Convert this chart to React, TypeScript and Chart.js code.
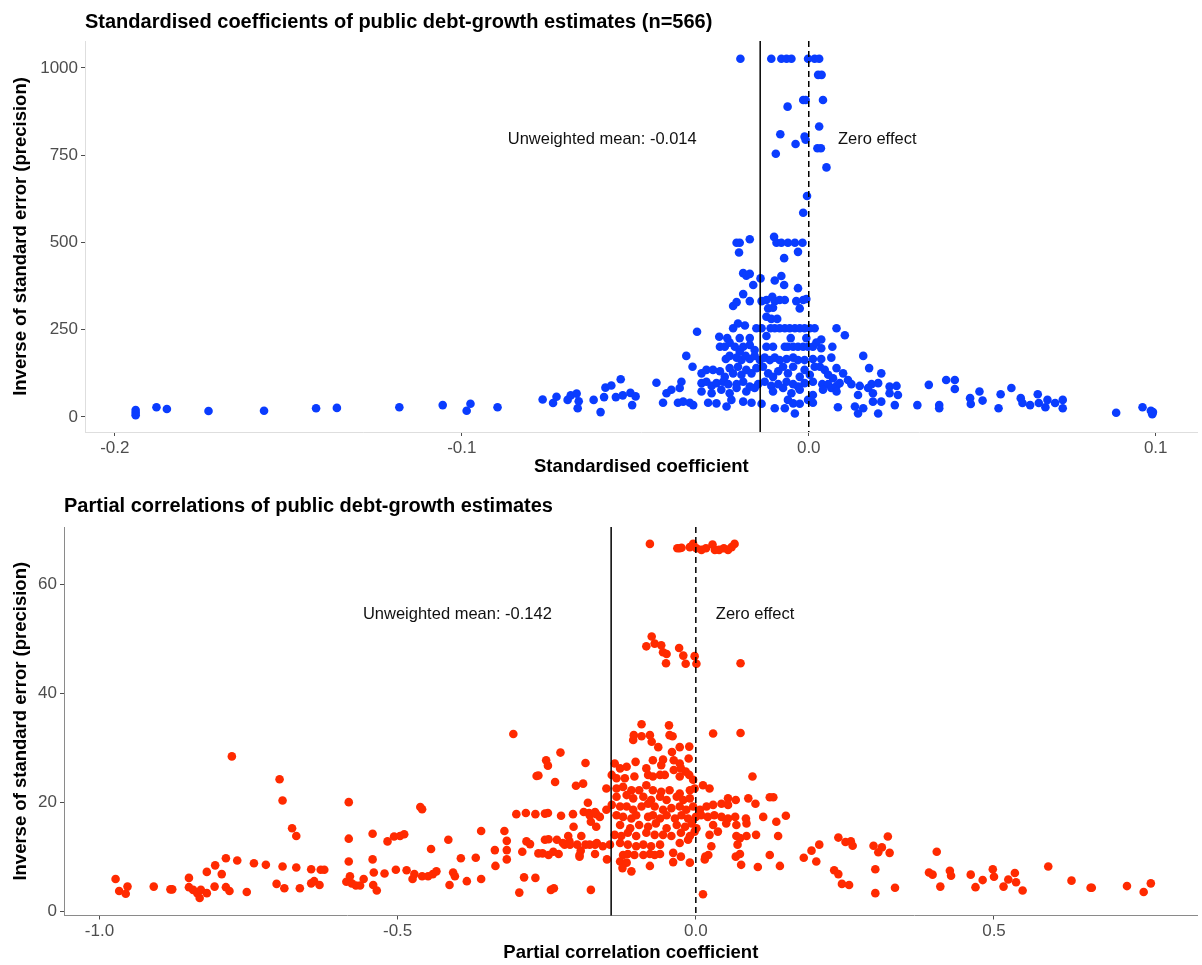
import React, { useEffect, useRef } from "react";
import { Chart, registerables } from "chart.js";

Chart.register(...registerables);

const FONT = '"Liberation Sans", Arial, Helvetica, sans-serif';
Chart.defaults.font.family = FONT;

type Pt = [number, number];

const yAxisTitle = "Inverse of standard error (precision)";
const zeroLabel = "Zero effect";

// ---------- Panel 1: standardised coefficients ----------
const stdTitle = "Standardised coefficients of public debt-growth estimates (n=566)";
const stdXTitle = "Standardised coefficient";
const stdXTicks = [-0.2, -0.1, 0, 0.1];
const stdXTickLabels = ["-0.2", "-0.1", "0.0", "0.1"];
const stdYTicks = [0, 250, 500, 750, 1000];
const stdYTickLabels = ["0", "250", "500", "750", "1000"];
const stdMean = -0.014;
const stdMeanLabel = "Unweighted mean: -0.014";
const stdPoints: Pt[] = [
  [-0.194, 20], [-0.194, 12], [-0.194, 5], [-0.188, 28], [-0.185, 23], [-0.173, 17], [-0.157, 18], [-0.142, 25],
  [-0.136, 26], [-0.118, 28], [-0.1055, 34], [-0.0986, 18], [-0.0975, 38], [-0.0897, 28], [-0.0767, 50], [-0.0737, 40],
  [-0.0727, 58], [-0.0695, 49], [-0.0686, 62], [-0.0669, 67], [-0.0663, 45], [-0.0666, 25], [-0.062, 49],
  [-0.0586, 84], [-0.0569, 90], [-0.0542, 108], [-0.059, 57], [-0.0556, 57], [-0.0536, 62], [-0.0514, 69], [-0.0499, 59],
  [-0.0509, 34], [-0.06, 14],
  [-0.0208, 499], [-0.0199, 499], [-0.017, 509], [-0.01, 516], [-0.0093, 499], [-0.0079, 499], [-0.006, 499], [-0.004, 499],
  [-0.0018, 499], [-0.0201, 471], [-0.0031, 473], [-0.0071, 455],
  [-0.0189, 412], [-0.018, 405], [-0.016, 378], [-0.0139, 397], [-0.017, 410], [-0.0098, 391], [-0.0079, 404], [-0.0071, 378],
  [-0.0031, 369],
  [-0.0218, 318], [-0.0208, 329], [-0.0189, 352], [-0.017, 332], [-0.0136, 332], [-0.0122, 335], [-0.0105, 344], [-0.0098, 332],
  [-0.0084, 335], [-0.0069, 335], [-0.0036, 332], [-0.0026, 311], [-0.0016, 335], [-0.0007, 338], [-0.0117, 311], [-0.0103, 313],
  [-0.0122, 287], [-0.0108, 281], [-0.0091, 281],
  [-0.0322, 244], [-0.0258, 230], [-0.0235, 226], [-0.0218, 254], [-0.0204, 268], [-0.0199, 226], [-0.0184, 262], [-0.017, 226],
  [-0.0151, 254], [-0.0136, 254], [-0.0122, 232], [-0.011, 254], [-0.0098, 254], [-0.0084, 254], [-0.0069, 254], [-0.0055, 254],
  [-0.004, 254], [-0.0026, 254], [-0.0012, 254], [0.0003, 254], [0.0017, 254], [-0.0052, 226], [-0.0007, 226], [0.0036, 222],
  [0.008, 254], [0.0104, 234], [0.0068, 201],
  [-0.0256, 201], [-0.0242, 201], [-0.0228, 213], [-0.0213, 201], [-0.0199, 187], [-0.0189, 201], [-0.017, 206], [-0.0156, 192],
  [-0.0122, 201], [-0.0103, 201], [-0.0069, 201], [-0.006, 201], [-0.0045, 201], [-0.0031, 201], [-0.0016, 201], [-0.0002, 201],
  [0.0012, 201], [0.0022, 213], [0.0036, 197],
  [-0.0353, 175], [-0.0239, 166], [-0.0228, 175], [-0.0208, 170], [-0.0194, 163], [-0.0182, 175], [-0.017, 166], [-0.0156, 175],
  [-0.0141, 163], [-0.0127, 170], [-0.0112, 163], [-0.0098, 170], [-0.0084, 163], [-0.0064, 166], [-0.0045, 170], [-0.0031, 163],
  [-0.0012, 163], [0.0012, 166], [0.0036, 166], [0.0065, 170], [0.0157, 175],
  [-0.0335, 144], [-0.0309, 125], [-0.0295, 135], [-0.0276, 135], [-0.0256, 131], [-0.0242, 115], [-0.0228, 140], [-0.0218, 125],
  [-0.0204, 144], [-0.0194, 121], [-0.018, 135], [-0.0165, 125], [-0.0151, 140], [-0.0132, 144], [-0.0117, 125], [-0.0103, 115],
  [-0.0088, 131], [-0.0074, 144], [-0.006, 125], [-0.0045, 144], [-0.0026, 115], [-0.0012, 135], [0.0003, 121], [0.0017, 144],
  [0.0032, 144], [0.0046, 135], [0.0056, 121], [0.007, 111], [0.008, 140], [0.0099, 125], [0.0113, 106], [0.0174, 140], [0.0209, 125],
  [-0.0439, 98], [-0.0367, 101], [-0.0309, 97], [-0.0295, 101], [-0.028, 89], [-0.0266, 97], [-0.0247, 101], [-0.0232, 94],
  [-0.0208, 94], [-0.0189, 101], [-0.017, 87], [-0.0146, 94], [-0.0127, 101], [-0.0108, 89], [-0.0088, 94], [-0.0064, 101],
  [-0.0045, 94], [-0.0031, 87], [-0.0012, 97], [0.0012, 101], [0.0039, 94], [0.0056, 94], [0.008, 89], [0.0089, 97],
  [0.0123, 94], [0.0147, 89], [0.0181, 94], [0.02, 97], [0.0233, 87], [0.0253, 89],
  [-0.041, 68], [-0.0396, 78], [-0.0372, 83], [-0.0309, 73], [-0.028, 68], [-0.0252, 78], [-0.0228, 68], [-0.0208, 83],
  [-0.018, 73], [-0.0156, 83], [-0.0103, 73], [-0.0074, 83], [-0.005, 68], [-0.0026, 78], [0.0012, 63], [0.0041, 78],
  [0.0065, 83], [0.008, 73], [0.0142, 63], [0.0171, 83], [0.0185, 68], [0.0233, 68], [0.0257, 63],
  [-0.042, 41], [-0.0377, 41], [-0.0362, 44], [-0.0343, 41], [-0.0333, 34], [-0.029, 41], [-0.0266, 39], [-0.0237, 30],
  [-0.0223, 49], [-0.0189, 44], [-0.0165, 41], [-0.0136, 38], [-0.0098, 25], [-0.0069, 25], [-0.006, 49], [-0.0045, 39],
  [-0.0026, 38], [-0.0002, 49], [0.0012, 41], [0.0084, 28], [0.0133, 30], [0.0157, 25], [0.0185, 44], [0.0209, 44], [0.0248, 34],
  [-0.004, 10], [0.0142, 10], [0.02, 10],
  [0.0313, 34], [0.0346, 92], [0.0376, 34], [0.0376, 25], [0.0396, 106], [0.0421, 106], [0.0421, 80], [0.0465, 54],
  [0.0467, 37], [0.0492, 73], [0.0501, 47], [0.0547, 25], [0.0553, 65], [0.0584, 83], [0.0611, 54], [0.0616, 40],
  [0.0638, 34], [0.066, 65], [0.0663, 40], [0.0682, 28], [0.0688, 49], [0.071, 40], [0.0732, 49], [0.0732, 25],
  [0.0886, 12], [0.0962, 28], [0.0986, 18], [0.099, 8], [0.0992, 14],
  [-0.0197, 1026], [-0.0108, 1026], [-0.0079, 1026], [-0.0064, 1026], [-0.005, 1026], [-0.0002, 1026], [0.0017, 1026],
  [0.003, 1026], [0.0027, 980], [0.0037, 980], [-0.0016, 908], [-0.0009, 908], [0.0041, 908], [-0.0061, 889], [0.003, 832],
  [-0.0082, 810], [-0.0012, 803], [-0.0009, 794], [-0.0038, 782], [-0.0095, 754], [0.0025, 770], [0.0035, 770], [0.0051, 715],
  [-0.0005, 633], [-0.0016, 585],
];

// ---------- Panel 2: partial correlations ----------
const pcTitle = "Partial correlations of public debt-growth estimates";
const pcXTitle = "Partial correlation coefficient";
const pcXTicks = [-1, -0.5, 0, 0.5];
const pcXTickLabels = ["-1.0", "-0.5", "0.0", "0.5"];
const pcYTicks = [0, 20, 40, 60];
const pcYTickLabels = ["0", "20", "40", "60"];
const pcMean = -0.142;
const pcMeanLabel = "Unweighted mean: -0.142";
const pcPoints: Pt[] = [
  [-0.973, 6.0], [-0.967, 3.8], [-0.956, 3.3], [-0.953, 4.6], [-0.909, 4.6], [-0.881, 4.1], [-0.878, 4.1], [-0.85, 6.2],
  [-0.85, 4.5], [-0.843, 4.0], [-0.836, 3.4], [-0.832, 2.5], [-0.83, 4.0], [-0.82, 3.4], [-0.82, 7.3], [-0.807, 4.6],
  [-0.806, 8.5], [-0.795, 6.9], [-0.788, 9.8], [-0.788, 4.5], [-0.782, 3.8], [-0.778, 28.5], [-0.769, 9.4], [-0.753, 3.6],
  [-0.741, 8.9], [-0.721, 8.6], [-0.703, 5.1], [-0.698, 24.3], [-0.693, 20.4], [-0.693, 8.3], [-0.69, 4.3], [-0.677, 15.3],
  [-0.67, 13.9], [-0.67, 8.1], [-0.664, 4.3], [-0.645, 7.8], [-0.645, 5.2], [-0.64, 5.6], [-0.631, 4.9], [-0.629, 7.7],
  [-0.623, 7.7], [-0.582, 20.1], [-0.582, 13.4], [-0.582, 9.2], [-0.586, 5.5], [-0.58, 6.5], [-0.577, 5.2], [-0.57, 4.8],
  [-0.563, 4.8], [-0.557, 6.0], [-0.542, 14.3], [-0.542, 9.6], [-0.54, 7.2], [-0.541, 4.9], [-0.535, 3.9], [-0.522, 7.0],
  [-0.517, 12.9], [-0.506, 13.8], [-0.503, 7.7], [-0.496, 13.9], [-0.489, 14.2], [-0.485, 7.6], [-0.475, 6.0], [-0.472, 6.9],
  [-0.462, 19.2], [-0.459, 18.8], [-0.459, 6.5], [-0.449, 6.5], [-0.444, 11.5], [-0.441, 6.9], [-0.435, 7.4], [-0.415, 13.2],
  [-0.413, 4.9], [-0.407, 7.2], [-0.404, 6.5], [-0.394, 9.8], [-0.384, 5.6], [-0.369, 9.9], [-0.36, 14.8], [-0.36, 6.0],
  [-0.337, 11.3], [-0.336, 8.4], [-0.321, 14.8], [-0.317, 13.0], [-0.317, 11.3], [-0.317, 9.6], [-0.306, 32.6], [-0.301, 17.9],
  [-0.296, 3.5], [-0.291, 11.0], [-0.288, 6.3], [-0.285, 18.1], [-0.284, 12.9], [-0.278, 12.4], [-0.269, 17.9], [-0.269, 6.2],
  [-0.267, 24.9], [-0.264, 25.0], [-0.264, 10.7], [-0.257, 10.7], [-0.253, 18.0], [-0.253, 13.2], [-0.251, 27.8], [-0.248, 26.8],
  [-0.248, 18.1], [-0.247, 13.3], [-0.243, 4.0], [-0.238, 4.3], [-0.239, 11.0], [-0.236, 23.8], [-0.233, 13.2], [-0.227, 29.2],
  [-0.226, 17.6], [-0.22, 12.3], [-0.214, 13.9], [-0.212, 12.9], [-0.206, 17.9], [-0.205, 15.6], [-0.201, 23.1], [-0.199, 12.3],
  [-0.193, 11.2], [-0.192, 13.9], [-0.188, 18.3], [-0.189, 23.5], [-0.185, 27.3], [-0.185, 12.3], [-0.179, 18.1], [-0.176, 16.5],
  [-0.176, 4.0], [-0.181, 20.0], [-0.169, 12.3], [-0.167, 17.9], [-0.167, 15.6],
  [-0.178, 17.7], [-0.169, 18.3], [-0.161, 17.4], [-0.223, 12.6], [-0.211, 12.3], [-0.178, 12.3], [-0.166, 12.6], [-0.156, 12.0],
  [-0.144, 12.3], [-0.247, 10.4], [-0.23, 10.6], [-0.195, 10.4], [-0.169, 10.6], [-0.195, 10.1], [-0.149, 9.6],
  [-0.091, 34.4], [-0.045, 34.2], [0.029, 32.7], [0.075, 32.8],
  [-0.105, 31.5], [-0.104, 32.4], [-0.091, 32.2], [-0.077, 32.4], [-0.074, 31.2], [-0.063, 30.2], [-0.044, 32.4], [-0.039, 32.2],
  [-0.027, 30.2], [-0.011, 30.3], [-0.04, 29.3],
  [-0.072, 27.8], [-0.055, 27.9], [-0.037, 27.8], [-0.027, 27.2], [-0.012, 28.1], [-0.101, 27.5], [-0.136, 27.2], [-0.127, 26.3],
  [-0.116, 26.6], [-0.083, 26.3], [-0.058, 26.9], [-0.037, 26.0], [-0.025, 26.3], [-0.017, 25.7],
  [-0.141, 25.1], [-0.133, 24.5], [-0.119, 24.5], [-0.103, 24.8], [-0.08, 25.1], [-0.072, 24.8], [-0.06, 25.1], [-0.052, 25.1],
  [-0.027, 24.8], [-0.011, 25.1], [-0.0045, 24.2], [0.012, 23.2], [0.023, 22.6], [0.095, 24.8],
  [-0.15, 22.6], [-0.133, 22.6], [-0.122, 22.9], [-0.108, 22.3], [-0.095, 22.3], [-0.083, 23.2], [-0.072, 22.3], [-0.058, 22.0],
  [-0.044, 22.3], [-0.027, 21.7], [-0.01, 22.3], [-0.002, 22.6],
  [-0.133, 21.1], [-0.116, 21.4], [-0.105, 20.8], [-0.088, 21.1], [-0.075, 20.5], [-0.06, 21.1], [-0.049, 20.5], [-0.032, 21.1],
  [-0.021, 20.5], [-0.01, 20.8], [0.054, 20.8], [0.067, 20.5], [0.088, 20.8], [0.124, 21.0], [0.13, 21.0],
  [-0.15, 18.7], [-0.141, 19.6], [-0.127, 19.3], [-0.116, 19.3], [-0.105, 18.7], [-0.091, 19.3], [-0.08, 19.8], [-0.069, 19.3],
  [-0.055, 18.7], [-0.041, 19.0], [-0.027, 19.3], [-0.016, 18.7], [-0.0045, 19.3], [0.007, 18.7], [0.018, 19.3], [0.029, 19.6],
  [0.043, 19.8], [0.054, 19.6], [0.1, 19.8],
  [-0.133, 17.7], [-0.122, 17.4], [-0.108, 17.1], [-0.1, 17.7], [-0.08, 17.4], [-0.072, 17.7], [-0.06, 17.1], [-0.049, 17.7],
  [-0.035, 17.1], [-0.024, 17.7], [-0.013, 17.1], [0.0, 17.4], [0.009, 17.7], [0.02, 17.4], [0.031, 17.7], [0.043, 17.4],
  [0.054, 17.1], [0.066, 17.4], [0.084, 17.1], [0.113, 17.4], [0.151, 17.6],
  [-0.127, 15.9], [-0.11, 15.3], [-0.095, 15.9], [-0.08, 15.6], [-0.067, 16.2], [-0.049, 15.3], [-0.032, 15.9], [-0.018, 15.6],
  [-0.007, 16.2], [0.001, 15.3], [0.029, 15.9], [0.051, 16.2], [0.068, 15.9], [0.085, 16.2], [0.135, 16.5],
  [-0.136, 14.1], [-0.125, 13.9], [-0.114, 14.5], [-0.1, 13.9], [-0.083, 14.5], [-0.069, 14.1], [-0.055, 14.1], [-0.041, 13.9],
  [-0.025, 14.5], [-0.01, 13.9], [-0.002, 14.7], [0.023, 14.1], [0.037, 14.7], [0.068, 13.9], [0.085, 13.9], [0.101, 14.1],
  [0.138, 13.9],
  [-0.127, 12.6], [-0.114, 12.3], [-0.1, 12.0], [-0.088, 12.3], [-0.075, 12.0], [-0.06, 12.3], [-0.027, 12.6], [-0.013, 13.2],
  [0.026, 12.0], [0.07, 12.3], [0.074, 13.5],
  [-0.122, 10.4], [-0.114, 10.6], [-0.103, 10.4], [-0.088, 10.4], [-0.077, 10.6], [-0.069, 10.4], [-0.06, 10.6], [-0.038, 10.8],
  [-0.025, 10.1], [0.016, 10.1], [0.021, 10.4], [0.067, 10.1], [0.074, 10.6], [0.124, 10.4],
  [-0.127, 9.2], [-0.116, 9.0], [-0.077, 8.4], [-0.038, 9.1], [-0.01, 9.0], [0.015, 9.6], [0.076, 8.6], [0.104, 8.2],
  [0.141, 8.4], [-0.123, 8.0], [-0.108, 7.4], [0.012, 3.2],
  [-0.077, 67.5], [-0.031, 66.7], [-0.027, 66.7], [-0.024, 66.8], [-0.01, 66.9], [-0.0045, 67.5], [0.001, 66.7], [0.0095, 66.4],
  [0.017, 66.7], [0.028, 67.4], [0.032, 66.4], [0.039, 66.4], [0.047, 66.7], [0.054, 66.4], [0.06, 66.9], [0.065, 67.5],
  [-0.074, 50.5], [-0.083, 48.7], [-0.069, 49.2], [-0.058, 48.9], [-0.055, 47.6], [-0.049, 47.3], [-0.05, 45.6], [-0.028, 48.4],
  [-0.021, 47.0], [-0.017, 45.5], [-0.002, 46.9], [0.001, 45.5], [0.075, 45.6],
  [0.181, 9.9], [0.194, 11.2], [0.202, 9.2], [0.207, 12.3], [0.232, 7.6], [0.239, 6.9], [0.239, 13.6], [0.245, 5.1],
  [0.251, 12.8], [0.257, 4.9], [0.26, 12.9], [0.263, 12.1], [0.298, 12.1], [0.301, 7.8], [0.301, 3.4], [0.306, 10.9],
  [0.312, 11.8], [0.322, 13.8], [0.325, 10.8], [0.334, 4.4], [0.391, 7.2], [0.397, 6.8], [0.404, 11.0], [0.41, 4.6],
  [0.426, 7.5], [0.428, 6.6], [0.461, 6.8], [0.469, 4.5], [0.481, 5.8], [0.498, 7.8], [0.5, 6.4], [0.516, 4.6],
  [0.524, 5.9], [0.535, 7.1], [0.537, 5.4], [0.548, 3.9], [0.591, 8.3], [0.63, 5.7], [0.662, 4.4], [0.664, 4.4],
  [0.723, 4.7], [0.751, 3.6], [0.763, 5.2],
];

interface Panel {
  points: Pt[];
  color: string;
  xMin: number; xMax: number; yMin: number; yMax: number;
  xTicks: number[]; xTickLabels: string[];
  yTicks: number[]; yTickLabels: string[];
  mean: number; meanLabel: string;
  labelY: number; meanLabelX: number; zeroLabelX: number;
  title: string; xTitle: string;
  height: number; plotTop: number; plotLeft: number; plotBottom: number;
  axisColor: string; titleY: number; xTitleY: number;
}

const W = 1202;

const panels: Panel[] = [
  {
    points: stdPoints, color: "#0A3CFF",
    xMin: -0.2086, xMax: 0.1121, yMin: -43, yMax: 1077,
    xTicks: stdXTicks, xTickLabels: stdXTickLabels, yTicks: stdYTicks, yTickLabels: stdYTickLabels,
    mean: stdMean, meanLabel: stdMeanLabel, labelY: 794, meanLabelX: -0.0323, zeroLabelX: 0.0084,
    title: stdTitle, xTitle: stdXTitle,
    height: 480, plotTop: 41, plotLeft: 85, plotBottom: 432,
    axisColor: "#DEDEDE", titleY: 22, xTitleY: 467,
  },
  {
    points: pcPoints, color: "#FF2A00",
    xMin: -1.0595, xMax: 0.8416, yMin: -0.7, yMax: 70.6,
    xTicks: pcXTicks, xTickLabels: pcXTickLabels, yTicks: pcYTicks, yTickLabels: pcYTickLabels,
    mean: pcMean, meanLabel: pcMeanLabel, labelY: 54.6, meanLabelX: -0.2414, zeroLabelX: 0.0335,
    title: pcTitle, xTitle: pcXTitle,
    height: 485, plotTop: 47, plotLeft: 64, plotBottom: 435.5,
    axisColor: "#8A8A8A", titleY: 26, xTitleY: 473,
  },
];

function decorPlugin(p: Panel) {
  return {
    id: "decor",
    afterDatasetsDraw(chart: any) {
      const { ctx, chartArea } = chart;
      const xs = chart.scales.x;
      const ys = chart.scales.y;
      ctx.save();
      ctx.strokeStyle = "#000";
      ctx.lineWidth = 1.5;
      const mx = xs.getPixelForValue(p.mean);
      ctx.beginPath();
      ctx.moveTo(mx, chartArea.top);
      ctx.lineTo(mx, chartArea.bottom);
      ctx.stroke();
      ctx.setLineDash([6, 4]);
      const zx = xs.getPixelForValue(0);
      ctx.beginPath();
      ctx.moveTo(zx, chartArea.top);
      ctx.lineTo(zx, chartArea.bottom);
      ctx.stroke();
      ctx.setLineDash([]);

      ctx.fillStyle = "#111";
      ctx.font = `16.5px ${FONT}`;
      ctx.textBaseline = "middle";
      ctx.textAlign = "right";
      const ly = ys.getPixelForValue(p.labelY);
      ctx.fillText(p.meanLabel, xs.getPixelForValue(p.meanLabelX), ly);
      ctx.textAlign = "left";
      ctx.fillText(zeroLabel, xs.getPixelForValue(p.zeroLabelX), ly);

      ctx.fillStyle = "#000";
      ctx.font = `bold 20px ${FONT}`;
      ctx.textAlign = "left";
      ctx.fillText(p.title, chartArea.left, p.titleY);

      ctx.font = `bold 18.5px ${FONT}`;
      ctx.textAlign = "center";
      ctx.fillText(p.xTitle, (chartArea.left + chartArea.right) / 2, p.xTitleY);
      ctx.translate(21, (chartArea.top + chartArea.bottom) / 2);
      ctx.rotate(-Math.PI / 2);
      ctx.fillText(yAxisTitle, 0, 0);
      ctx.restore();
    },
  };
}

function makeConfig(p: Panel): any {
  const tickFont = { family: FONT, size: 17 };
  return {
    type: "scatter",
    data: {
      datasets: [
        {
          data: p.points.map(([x, y]) => ({ x, y })),
          backgroundColor: p.color,
          borderWidth: 0,
          pointRadius: 4.3,
          pointHoverRadius: 4.3,
          pointBorderWidth: 0,
        },
      ],
    },
    options: {
      animation: false,
      responsive: false,
      maintainAspectRatio: false,
      events: [],
      layout: { padding: { top: p.plotTop, left: 0, right: 0, bottom: 0 } },
      plugins: { legend: { display: false }, tooltip: { enabled: false }, title: { display: false } },
      scales: {
        x: {
          type: "linear",
          min: p.xMin,
          max: p.xMax,
          afterBuildTicks: (s: any) => { s.ticks = p.xTicks.map((v) => ({ value: v })); },
          afterFit: (s: any) => { s.height = p.height - p.plotBottom; },
          ticks: {
            autoSkip: false, maxRotation: 0, padding: 2, color: "#4D4D4D", font: tickFont,
            callback: (_v: any, i: number) => p.xTickLabels[i],
          },
          grid: { drawOnChartArea: false, drawTicks: true, tickLength: 4, color: "#4D4D4D", lineWidth: 1 },
          border: { display: true, color: p.axisColor, width: 1 },
        },
        y: {
          type: "linear",
          min: p.yMin,
          max: p.yMax,
          afterBuildTicks: (s: any) => { s.ticks = p.yTicks.map((v) => ({ value: v })); },
          afterFit: (s: any) => { s.width = p.plotLeft; },
          ticks: {
            autoSkip: false, padding: 3, color: "#4D4D4D", font: tickFont,
            callback: (_v: any, i: number) => p.yTickLabels[i],
          },
          grid: { drawOnChartArea: false, drawTicks: true, tickLength: 4, color: "#4D4D4D", lineWidth: 1 },
          border: { display: true, color: p.axisColor, width: 1 },
        },
      },
    },
    plugins: [decorPlugin(p)],
  };
}

function PanelChart({ p }: { p: Panel }) {
  const ref = useRef<HTMLCanvasElement>(null);
  useEffect(() => {
    if (!ref.current) return;
    const chart = new Chart(ref.current, makeConfig(p));
    return () => chart.destroy();
  }, [p]);
  return (
    <canvas
      ref={ref}
      width={W}
      height={p.height}
      style={{ display: "block", width: W, height: p.height }}
    />
  );
}

export default function App() {
  return (
    <div
      style={{
        position: "absolute",
        left: 0,
        top: 0,
        width: W,
        height: 965,
        background: "#fff",
        overflow: "hidden",
      }}
    >
      {panels.map((p, i) => (
        <PanelChart key={i} p={p} />
      ))}
    </div>
  );
}
